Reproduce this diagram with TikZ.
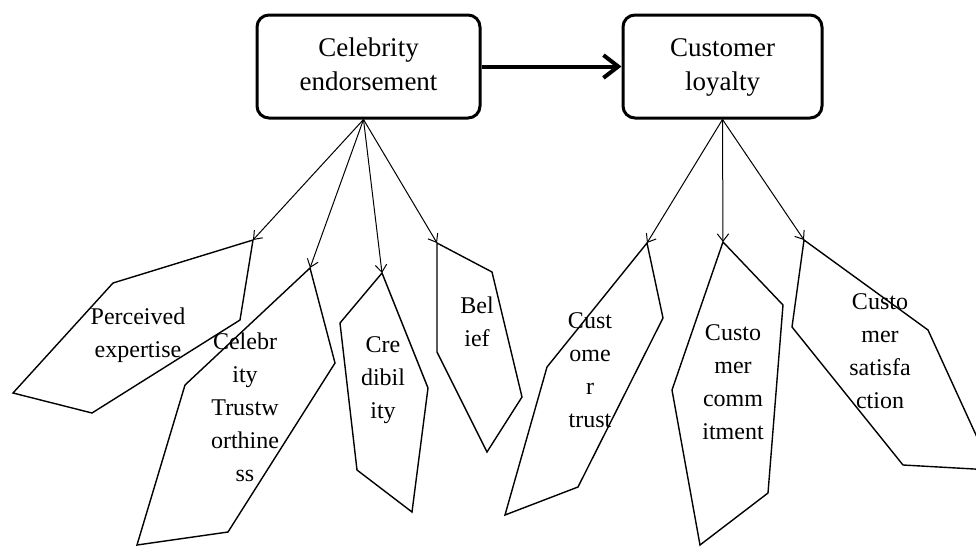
\documentclass[tikz,border=0pt]{standalone}
\usepackage{fontspec}
\setmainfont{Liberation Serif}
\usetikzlibrary{arrows.meta}

\begin{document}
\begin{tikzpicture}[
    x=0.5pt, y=-0.5pt,
    font=\fontsize{12}{16.5}\selectfont,
    concept/.style={
        draw,
        rounded corners=6pt,
        minimum height=51.5pt,
        align=center,
        text depth=0.2em,
        line width=1.5pt,
        font=\fontsize{13.5}{17}\selectfont
    },
    facet/.style={
        draw,
        line width=0.7pt
    },
    facettext/.style={
        align=center,
        inner sep=0pt
    },
    arrow/.style={
        -{Straight Barb[length=1.3mm, width=2mm]},
        line width=0.5pt
    },
    link/.style={
        -{Straight Barb[length=2.6mm, width=4mm]},
        line width=2pt
    }
]

\useasboundingbox (0,0) rectangle (976,547);
\clip (0,0) rectangle (976,547);

\node[concept, minimum width=111.5pt] (ce) at (368.5,66.5) {Celebrity\\endorsement};

\node[concept, minimum width=99.5pt] (cl) at (722.5,66.5) {Customer\\loyalty};

\draw[link] (ce) -- (cl);

\coordinate (pe-tip) at (253,240);
\coordinate (ct-tip) at (310,268);
\coordinate (cr-tip) at (382,273);
\coordinate (be-tip) at (437,243);
\coordinate (cu-tip) at (647,243);
\coordinate (cc-tip) at (723,242);
\coordinate (cs-tip) at (804,240);

\draw[facet] (pe-tip) -- (240,320) -- (92,413) -- (13,393) -- (113,283) -- cycle;
\draw[facet] (ct-tip) -- (335,363) -- (228,532) -- (137,545) -- (185,385) -- cycle;
\draw[facet] (cr-tip) -- (428,388) -- (412,512) -- (357,470) -- (340,323) -- cycle;
\draw[facet] (be-tip) -- (492,272) -- (522,397) -- (487,452) -- (437,352) -- cycle;
\draw[facet] (cu-tip) -- (663,318) -- (578,487) -- (505,515) -- (547,367) -- cycle;
\draw[facet] (cc-tip) -- (783,305) -- (768,493) -- (700,545) -- (672,390) -- cycle;
\draw[facet] (cs-tip) -- (928,330) -- (992,470) -- (903,465) -- (792,327) -- cycle;

\node[facettext] (pe) at (138,335) {Perceived\\expertise};
\node[facettext] (ct) at (245,407) {Celebr\\ity\\Trustw\\orthine\\ss};
\node[facettext] (cr) at (383,380) {Cre\\dibil\\ity};
\node[facettext] (be) at (477,322) {Bel\\ief};
\node[facettext] (cu) at (590,370) {Cust\\ome\\r\\trust};
\node[facettext] (cc) at (733,382) {Custo\\mer\\comm\\itment};
\node[facettext] (cs) at (880,351) {Custo\\mer\\satisfa\\ction};

\foreach \t in {pe,ct,cr,be}
    \draw[arrow] ([xshift=-2.5pt]ce.south) -- (\t-tip);
\foreach \t in {cu,cc,cs}
    \draw[arrow] (cl.south) -- (\t-tip);

\end{tikzpicture}
\end{document}
